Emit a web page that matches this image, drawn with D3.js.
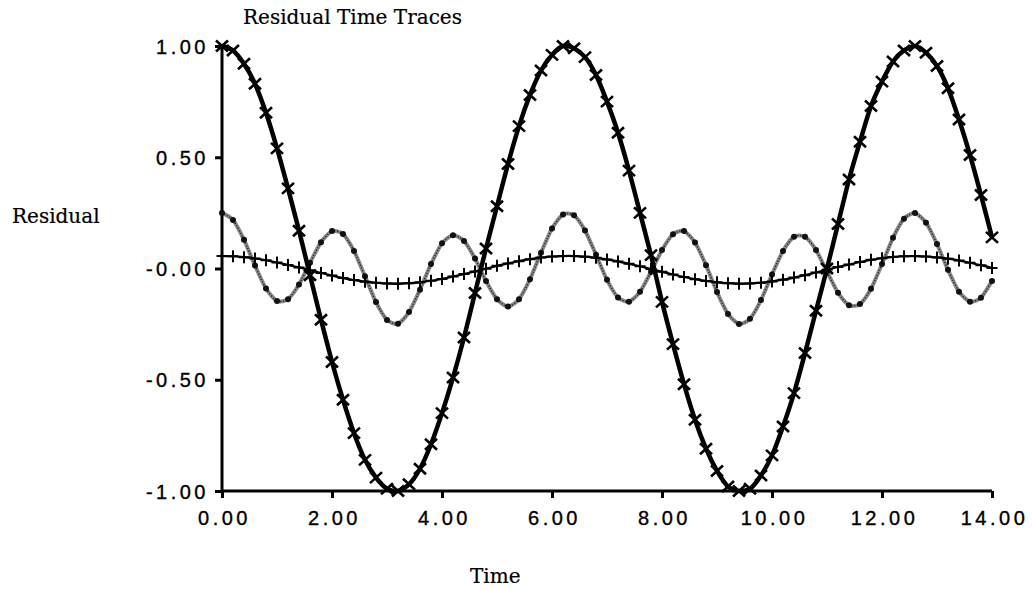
<!DOCTYPE html>
<html>
<head>
<meta charset="utf-8">
<script src="https://cdn.jsdelivr.net/npm/d3@7"></script>
<style>
  body { margin: 0; background: #fff; }
  svg { display: block; }
  .tick-lbl { font-family: "Liberation Sans", Arial, sans-serif; font-size: 20px; letter-spacing: 3.5px; fill: #000; stroke: #000; stroke-width: 0.35px; }
  .serif { font-family: "DejaVu Serif", serif; font-size: 20px; fill: #000; stroke: #000; stroke-width: 0.2px; }
</style>
</head>
<body>
<div id="chart"></div>
<script>
// sample times
const time = [0,0.2,0.4,0.6,0.8,1,1.2,1.4,1.6,1.8,2,2.2,2.4,2.6,2.8,3,3.2,3.4,3.6,3.8,
  4,4.2,4.4,4.6,4.8,5,5.2,5.4,5.6,5.8,6,6.2,6.4,6.6,6.8,7,7.2,7.4,7.6,7.8,
  8,8.2,8.4,8.6,8.8,9,9.2,9.4,9.6,9.8,10,10.2,10.4,10.6,10.8,11,11.2,11.4,11.6,11.8,
  12,12.2,12.4,12.6,12.8,13,13.2,13.4,13.6,13.8,14]

// thick black trace, x markers
const traceX = [1.00,0.98,0.92,0.83,0.70,0.54,0.36,0.17,-0.03,-0.23,-0.42,-0.59,-0.74,-0.86,-0.94,-0.99,-1.00,-0.97,-0.90,-0.79,
  -0.65,-0.49,-0.31,-0.11,0.09,0.28,0.47,0.64,0.78,0.89,0.96,1.00,0.99,0.95,0.87,0.75,0.61,0.44,0.25,0.06,
  -0.15,-0.34,-0.52,-0.68,-0.81,-0.91,-0.98,-1.00,-0.99,-0.93,-0.84,-0.71,-0.56,-0.38,-0.19,0.00,0.20,0.40,0.57,0.73,
  0.84,0.93,0.98,1.00,0.97,0.91,0.81,0.67,0.51,0.33,0.14]

// grey trace, dot markers
const traceDot = [0.250,0.218,0.129,0.013,-0.090,-0.146,-0.138,-0.072,0.026,0.118,0.168,0.155,0.079,-0.035,-0.151,-0.231,-0.248,-0.196,-0.095,0.020,
  0.113,0.150,0.124,0.045,-0.056,-0.138,-0.171,-0.138,-0.048,0.071,0.180,0.243,0.239,0.171,0.062,-0.051,-0.130,-0.149,-0.105,-0.015,
  0.083,0.154,0.168,0.117,0.015,-0.106,-0.204,-0.249,-0.226,-0.142,-0.027,0.079,0.143,0.143,0.083,-0.014,-0.109,-0.165,-0.160,-0.091,
  0.020,0.138,0.224,0.249,0.206,0.110,-0.006,-0.104,-0.149,-0.131,-0.056]

// small trace, plus markers
const tracePlus = [0.056,0.055,0.051,0.045,0.037,0.027,0.016,0.005,-0.008,-0.020,-0.032,-0.043,-0.052,-0.059,-0.064,-0.067,-0.068,-0.066,-0.062,-0.055,
  -0.047,-0.036,-0.025,-0.013,-0.001,0.012,0.023,0.033,0.042,0.049,0.054,0.056,0.056,0.053,0.048,0.041,0.032,0.021,0.010,-0.002,
  -0.015,-0.027,-0.038,-0.048,-0.056,-0.062,-0.066,-0.068,-0.067,-0.064,-0.058,-0.050,-0.041,-0.030,-0.018,-0.006,0.007,0.018,0.029,0.039,
  0.046,0.052,0.055,0.056,0.054,0.050,0.044,0.036,0.026,0.015,0.002]

const xTicks = [0, 2, 4, 6, 8, 10, 12, 14]
const xTickLabels = ['0.00','2.00','4.00','6.00','8.00','10.00','12.00','14.00']
const yTicks = [1, 0.5, 0, -0.5, -1]
const yTickLabels = ['1.00','0.50','-0.00','-0.50','-1.00']

const W = 1032, H = 590
const svg = d3.select('#chart').append('svg').attr('width', W).attr('height', H)

const x = d3.scaleLinear().domain([0, 14]).range([222, 992])
const y = d3.scaleLinear().domain([-1, 1]).range([491, 46])

// axes
const xAxis = d3.axisBottom(x).tickValues(xTicks).tickSize(7)
  .tickFormat((d, i) => xTickLabels[i])
const yAxis = d3.axisLeft(y).tickValues(yTicks).tickSize(7)
  .tickFormat((d, i) => yTickLabels[i])

const gx = svg.append('g').attr('transform', `translate(0,${y(-1)})`).call(xAxis)
const gy = svg.append('g').attr('transform', `translate(${x(0)},0)`).call(yAxis)
;[gx, gy].forEach(g => {
  g.select('.domain').attr('stroke', '#000').attr('stroke-width', 3)
  g.selectAll('.tick line').attr('stroke', '#000').attr('stroke-width', 3)
  g.selectAll('.tick text').attr('class', 'tick-lbl').attr('font-family', null).attr('font-size', null)
})
gx.select('.domain').attr('d', `M${x(0)},0H${x(14)}`)
gy.select('.domain').attr('d', `M0,${y(1)}V${y(-1)}`)
gx.selectAll('.tick text').attr('dy', '1.2em').attr('dx', '0.1em')
gy.selectAll('.tick text').attr('x', -13).attr('dy', '0.36em')

// grey trace
const lineDot = d3.line().x((d, i) => x(time[i])).y(d => y(d)).curve(d3.curveCardinal.tension(0.3))
svg.append('path').datum(traceDot).attr('d', lineDot)
  .attr('fill', 'none').attr('stroke', '#8a8a8a').attr('stroke-width', 4)
svg.append('path').datum(traceDot).attr('d', lineDot)
  .attr('fill', 'none').attr('stroke', '#222').attr('stroke-width', 1.4).attr('stroke-dasharray', '1.2,1.6')
svg.selectAll('.dot').data(traceDot).enter().append('circle')
  .attr('class', 'dot')
  .attr('cx', (d, i) => x(time[i])).attr('cy', d => y(d))
  .attr('r', 3).attr('fill', '#111')

// plus trace
const linePlus = d3.line().x((d, i) => x(time[i])).y(d => y(d)).curve(d3.curveCardinal.tension(0.3))
svg.append('path').datum(tracePlus).attr('d', linePlus)
  .attr('fill', 'none').attr('stroke', '#000').attr('stroke-width', 2.2)
svg.selectAll('.plus').data(tracePlus).enter().append('path')
  .attr('class', 'plus')
  .attr('transform', (d, i) => `translate(${x(time[i])},${y(d)})`)
  .attr('d', 'M-5.5,0H5.5M0,-6V6')
  .attr('stroke', '#000').attr('stroke-width', 2)

// thick trace
const lineX = d3.line().x((d, i) => x(time[i])).y(d => y(d)).curve(d3.curveCardinal.tension(0.3))
svg.append('path').datum(traceX).attr('d', lineX)
  .attr('fill', 'none').attr('stroke', '#000').attr('stroke-width', 4.5)
svg.selectAll('.xm').data(traceX).enter().append('path')
  .attr('class', 'xm')
  .attr('transform', (d, i) => `translate(${x(time[i])},${y(d)})`)
  .attr('d', 'M-6,-5.5L6,5.5M6,-5.5L-6,5.5')
  .attr('stroke', '#000').attr('stroke-width', 2.6)

// titles
svg.append('text').attr('class', 'serif').attr('x', 243).attr('y', 24).text('Residual Time Traces')
svg.append('text').attr('class', 'serif').attr('x', 12).attr('y', 223).text('Residual')
svg.append('text').attr('class', 'serif').attr('x', 470).attr('y', 583).text('Time')
</script>
</body>
</html>
